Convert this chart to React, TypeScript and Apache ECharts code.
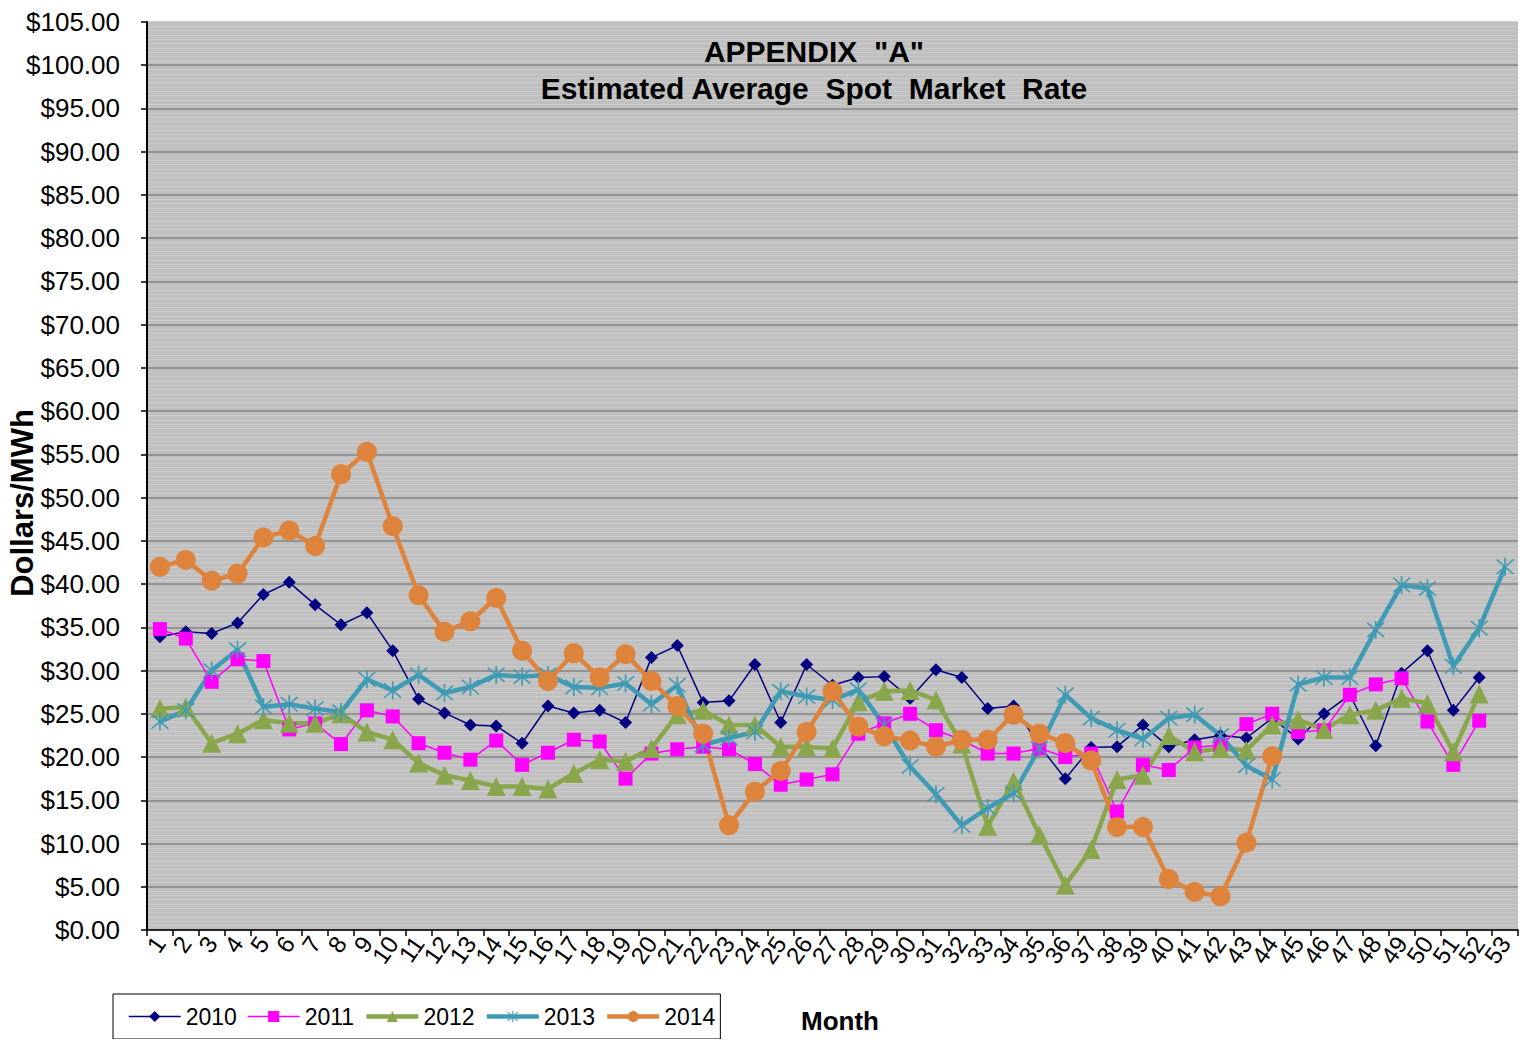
import React, { useEffect, useRef } from "react";
import * as echarts from "echarts";

const weeks: string[] = Array.from({ length: 53 }, (_, i) => String(i + 1));
const yTicksFormat = (v: number) => "$" + v.toFixed(2);

const s2010: number[] = [
  33.9, 34.5, 34.3, 35.5, 38.8, 40.2, 37.6, 35.3, 36.7, 32.3,
  26.7, 25.1, 23.7, 23.6, 21.6, 25.9, 25.1, 25.4, 24.0, 31.5,
  32.9, 26.3, 26.5, 30.7, 24.0, 30.7, 28.3, 29.2, 29.3, 26.8,
  30.1, 29.2, 25.6, 25.9, 21.3, 17.5, 21.1, 21.2, 23.7, 21.2,
  22.0, 22.5, 22.2, 24.5, 22.1, 25.0, 27.2, 21.3, 29.7, 32.3,
  25.4, 29.2,
];
const s2011: number[] = [
  34.8, 33.7, 28.7, 31.3, 31.1, 23.2, 23.9, 21.5, 25.4, 24.7,
  21.6, 20.5, 19.7, 21.9, 19.1, 20.5, 22.0, 21.8, 17.5, 20.4,
  20.9, 21.2, 20.9, 19.2, 16.8, 17.4, 18.0, 22.7, 23.9, 25.0,
  23.1, 22.0, 20.4, 20.4, 21.0, 20.0, 20.4, 13.7, 19.1, 18.5,
  21.1, 21.4, 23.8, 25.0, 22.9, 23.1, 27.2, 28.4, 29.1, 24.1,
  19.1, 24.2,
];
const s2012: number[] = [
  25.6, 25.8, 21.6, 22.7, 24.3, 23.9, 23.9, 25.0, 22.9, 22.0,
  19.3, 17.9, 17.3, 16.6, 16.6, 16.3, 18.1, 19.7, 19.5, 21.0,
  24.9, 25.4, 23.7, 23.7, 21.2, 21.2, 21.0, 26.4, 27.6, 27.7,
  26.6, 21.5, 12.0, 17.2, 11.0, 5.2, 9.3, 17.4, 17.9, 22.5,
  20.6, 21.0, 20.8, 23.7, 24.3, 23.2, 24.9, 25.4, 26.8, 26.2,
  20.6, 27.3,
];
const s2013: number[] = [
  24.1, 25.4, 30.0, 32.4, 25.8, 26.1, 25.6, 25.2, 29.0, 27.7,
  29.5, 27.4, 28.1, 29.5, 29.3, 29.5, 28.1, 28.0, 28.5, 26.1,
  28.3, 21.4, 22.2, 22.9, 27.6, 27.0, 26.6, 27.8, 23.7, 18.9,
  15.7, 12.1, 14.1, 15.8, 21.0, 27.2, 24.5, 23.1, 22.1, 24.5,
  24.9, 22.5, 19.0, 17.4, 28.4, 29.2, 29.2, 34.7, 39.9, 39.5,
  30.5, 34.9, 42.0,
];
const s2014: number[] = [
  42.0, 42.8, 40.4, 41.2, 45.4, 46.2, 44.4, 52.7, 55.3, 46.7,
  38.7, 34.5, 35.7, 38.4, 32.3, 28.8, 32.0, 29.2, 31.9, 28.8,
  25.9, 22.7, 12.1, 16.0, 18.4, 22.9, 27.6, 23.5, 22.4, 21.9,
  21.2, 22.0, 22.0, 24.9, 22.7, 21.6, 19.6, 11.9, 11.9, 5.9,
  4.4, 3.9, 10.1, 20.1,
];

const FONT = "'Liberation Sans', Arial, sans-serif";
const asterisk =
  "path://M9.2,0 L10.8,0 L10.8,20 L9.2,20 Z M1.43,2.57 L2.57,1.43 L18.57,17.43 L17.43,18.57 Z M17.43,1.43 L18.57,2.57 L2.57,18.57 L1.43,17.43 Z";

export default function App() {
  const ref = useRef<HTMLDivElement>(null);
  useEffect(() => {
    if (!ref.current) return;
    const chart = echarts.init(ref.current, undefined, { renderer: "svg" });
    const splitColors: string[] = [];
    for (let i = 0; i <= 21; i++) splitColors.push(i === 21 ? "#C0C0C0" : "#858585");
    chart.setOption({
      animation: false,
      backgroundColor: "#ffffff",
      textStyle: { fontFamily: FONT },
      title: {
        text: 'APPENDIX  "A"\nEstimated Average  Spot  Market  Rate',
        left: 809,
        top: 28,
        textAlign: "center",
        textStyle: {
          fontFamily: FONT,
          fontSize: 30,
          fontWeight: "bold",
          color: "#000",
          lineHeight: 37,
        },
      },
      grid: {
        left: 147,
        top: 22,
        right: 13,
        bottom: 117,
        show: true,
        backgroundColor: "#C0C0C0",
        borderWidth: 0,
        containLabel: false,
        outerBoundsMode: "none",
      },
      legend: {
        left: 113,
        top: 994,
        orient: "horizontal",
        borderColor: "#000",
        borderWidth: 1,
        padding: [11, 5, 11, 15],
        itemWidth: 52,
        itemHeight: 14,
        itemGap: 10,
        textStyle: { fontFamily: FONT, fontSize: 23, color: "#000" },
        data: [
          { name: "2010", lineStyle: { width: 1.5 } },
          { name: "2011", lineStyle: { width: 1.5 } },
          { name: "2012", lineStyle: { width: 4.5 } },
          { name: "2013", lineStyle: { width: 4.5 } },
          { name: "2014", lineStyle: { width: 4.5 } },
        ],
      },
      graphic: [
        {
          type: "text",
          x: 22,
          y: 503,
          rotation: Math.PI / 2,
          style: {
            text: "Dollars/MWh",
            fontFamily: FONT,
            fontSize: 31,
            fontWeight: "bold",
            fill: "#000",
            align: "center",
            verticalAlign: "middle",
          },
        },
      ],
      xAxis: {
        type: "category",
        data: weeks,
        boundaryGap: true,
        name: "Month",
        nameLocation: "middle",
        nameGap: 78,
        nameTextStyle: {
          fontFamily: FONT,
          fontSize: 26,
          fontWeight: "bold",
          color: "#000",
          padding: [0, 0, 0, 15],
        },
        axisLine: { lineStyle: { color: "#000", width: 1.5 } },
        axisTick: { show: true, alignWithLabel: false, interval: 0, length: 6, lineStyle: { color: "#000", width: 1.5 } },
        axisLabel: {
          interval: 0,
          rotate: 55,
          margin: 9,
          fontFamily: FONT,
          fontSize: 24,
          color: "#000",
        },
        splitLine: { show: false },
      },
      yAxis: {
        type: "value",
        min: 0,
        max: 105,
        interval: 5,
        axisLine: { show: true, lineStyle: { color: "#000", width: 2 } },
        axisTick: { show: true, length: 6, lineStyle: { color: "#000", width: 1.5 } },
        axisLabel: {
          formatter: yTicksFormat,
          fontFamily: FONT,
          fontSize: 26,
          color: "#000",
          margin: 27,
        },
        splitLine: { show: true, lineStyle: { color: splitColors, width: 1.5 } },
        minorTick: { show: false, splitNumber: 10 },
        minorSplitLine: { show: true, lineStyle: { color: "#CBCBCB", width: 1.2 } },
      },
      series: [
        {
          name: "2010",
          type: "line",
          data: s2010,
          symbol: "diamond",
          symbolSize: 13,
          showAllSymbol: true,
          color: "#000080",
          lineStyle: { color: "#000080", width: 1.5 },
          itemStyle: { color: "#000080" },
        },
        {
          name: "2011",
          type: "line",
          data: s2011,
          symbol: "rect",
          symbolSize: 14,
          showAllSymbol: true,
          color: "#FF00FF",
          lineStyle: { color: "#FF00FF", width: 1.5 },
          itemStyle: { color: "#FF00FF" },
        },
        {
          name: "2012",
          type: "line",
          data: s2012,
          symbol: "triangle",
          symbolSize: 19,
          showAllSymbol: true,
          color: "#8AA64C",
          lineStyle: { color: "#8AA64C", width: 4.5 },
          itemStyle: { color: "#8AA64C" },
        },
        {
          name: "2013",
          type: "line",
          data: s2013,
          symbol: asterisk,
          symbolSize: 18,
          showAllSymbol: true,
          color: "#3F9AB4",
          lineStyle: { color: "#3F9AB4", width: 4.5 },
          itemStyle: { color: "#3F9AB4" },
        },
        {
          name: "2014",
          type: "line",
          data: s2014,
          symbol: "circle",
          symbolSize: 20,
          showAllSymbol: true,
          color: "#DE833B",
          lineStyle: { color: "#DE833B", width: 4.5 },
          itemStyle: { color: "#DE833B" },
        },
      ],
    });
    return () => chart.dispose();
  }, []);
  return <div ref={ref} style={{ width: 1531, height: 1047, margin: -8 }} />;
}
